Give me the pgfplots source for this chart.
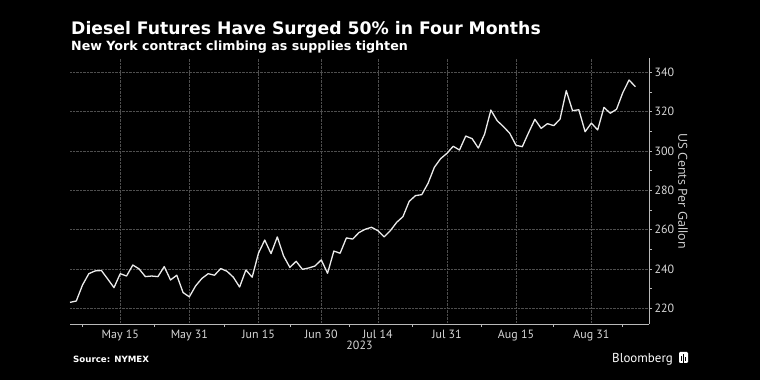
\documentclass[border=0pt]{standalone}
\usepackage{pgfplots}
\pgfplotsset{compat=1.18}
\usepackage{fontspec}
\setmainfont{DejaVu Sans}
\newfontfamily\titlefont{DejaVu Sans}
\newfontfamily\tickfont{PT Sans}
\newfontfamily\labfont{Open Sans}
\definecolor{gridc}{RGB}{78,78,78}
\definecolor{axc}{RGB}{185,185,185}
\definecolor{tickc}{RGB}{215,215,215}
\definecolor{linec}{RGB}{235,235,235}
\begin{document}
\begin{tikzpicture}
\useasboundingbox (0,0) rectangle (760bp,380bp);
\fill[black] (0,0) rectangle (760bp,380bp);
\node[anchor=base west, text=white, inner sep=0pt] at (71bp,345bp) {\titlefont\bfseries\fontsize{17.3}{17.3}\selectfont Diesel Futures Have Surged 50\% in Four Months};
\node[anchor=base west, text=white, inner sep=0pt] at (71bp,329bp) {\titlefont\bfseries\fontsize{12.7}{12.7}\selectfont New York contract climbing as supplies tighten};
\node[anchor=base west, text=white, inner sep=0pt] at (73bp,18bp) {\titlefont\bfseries\fontsize{8.7}{8.7}\selectfont Source: NYMEX};
\node[anchor=base west, text=white, inner sep=0pt] at (612bp,18bp) {\tickfont\fontsize{13}{13}\selectfont Bloomberg};
\fill[white, rounded corners=1.2bp] (679bp,17bp) rectangle (688bp,28bp);
\draw[black, line width=0.8bp] (681.5bp,19bp) -- (681.5bp,24bp) (683.5bp,17bp) -- (683.5bp,26bp) (685.5bp,19bp) -- (685.5bp,23bp);
\begin{axis}[
  at={(70bp,56bp)}, anchor=south west,
  scale only axis, width=579bp, height=266bp,
  xmin=-8, xmax=84.17, ymin=212, ymax=347.3,
  axis x line*=bottom, axis y line*=right,
  axis line style={axc, line width=0.8bp},
  xtick={0,11,22,32,41,52,63,75},
  xticklabels={May 15,May 31,Jun 15,Jun 30,Jul 14,Jul 31,Aug 15,Aug 31},
  minor xtick={-6,5.5,16.5,27,36.5,46.5,57.5,69,80},
  ytick={220,240,...,340},
  minor ytick={230,250,...,330},
  grid=major,
  major grid style={gridc, densely dotted, line width=0.6bp},
  tick align=outside,
  major tick length=3bp, minor tick length=3bp,
  every major x tick/.append style={draw=none},
  every tick/.append style={axc, line width=0.7bp},
  yticklabel pos=right,
  /pgf/number format/assume math mode=true,
  tick label style={font=\tickfont\fontsize{12}{12}\selectfont, text=tickc},
  xticklabel style={yshift=1bp},
  yticklabel style={xshift=-1bp},
  xlabel={2023},
  every axis x label/.style={at={(rel axis cs:0.5,0)}, anchor=north, yshift=-13bp, font=\tickfont\fontsize{12}{12}\selectfont, text=tickc},
  ylabel={US Cents Per Gallon},
  every axis y label/.style={at={(rel axis cs:1,0.5)}, xshift=34bp, rotate=-90, anchor=center, font=\labfont\fontsize{12.5}{12.5}\selectfont, text=tickc},
  clip=false,
]
\addplot[linec, line width=1.3bp, line join=round] table {
x y
-8 223.0
-7 223.7
-6 231.9
-5 237.6
-4 239.0
-3 239.2
-2 234.9
-1 230.5
0 237.6
1 236.4
2 242.0
3 240.0
4 236.1
5 236.4
6 236.1
7 241.2
8 234.4
9 236.8
10 228.0
11 225.8
12 231.4
13 235.2
14 237.6
15 236.8
16 240.2
17 238.8
18 235.8
19 230.8
20 239.5
21 235.8
22 248.0
23 254.7
24 247.8
25 256.3
26 246.6
27 240.8
28 243.9
29 239.8
30 240.5
31 241.5
32 244.6
33 237.8
34 249.1
35 248.0
36 255.8
37 255.2
38 258.5
39 260.2
40 261.2
41 259.5
42 256.3
43 259.5
44 263.7
45 266.6
46 274.4
47 277.3
48 277.8
49 283.6
50 291.7
51 296.1
52 298.8
53 302.4
54 300.5
55 307.6
56 306.3
57 301.5
58 308.6
59 320.8
60 315.4
61 312.4
62 309.0
63 302.9
64 302.2
65 309.3
66 316.1
67 311.5
68 313.9
69 312.9
70 316.1
71 330.7
72 320.5
73 321.0
74 309.8
75 314.2
76 310.7
77 322.2
78 319.2
79 321.2
80 329.7
81 336.1
82 332.7
};
\end{axis}
\end{tikzpicture}
\end{document}
